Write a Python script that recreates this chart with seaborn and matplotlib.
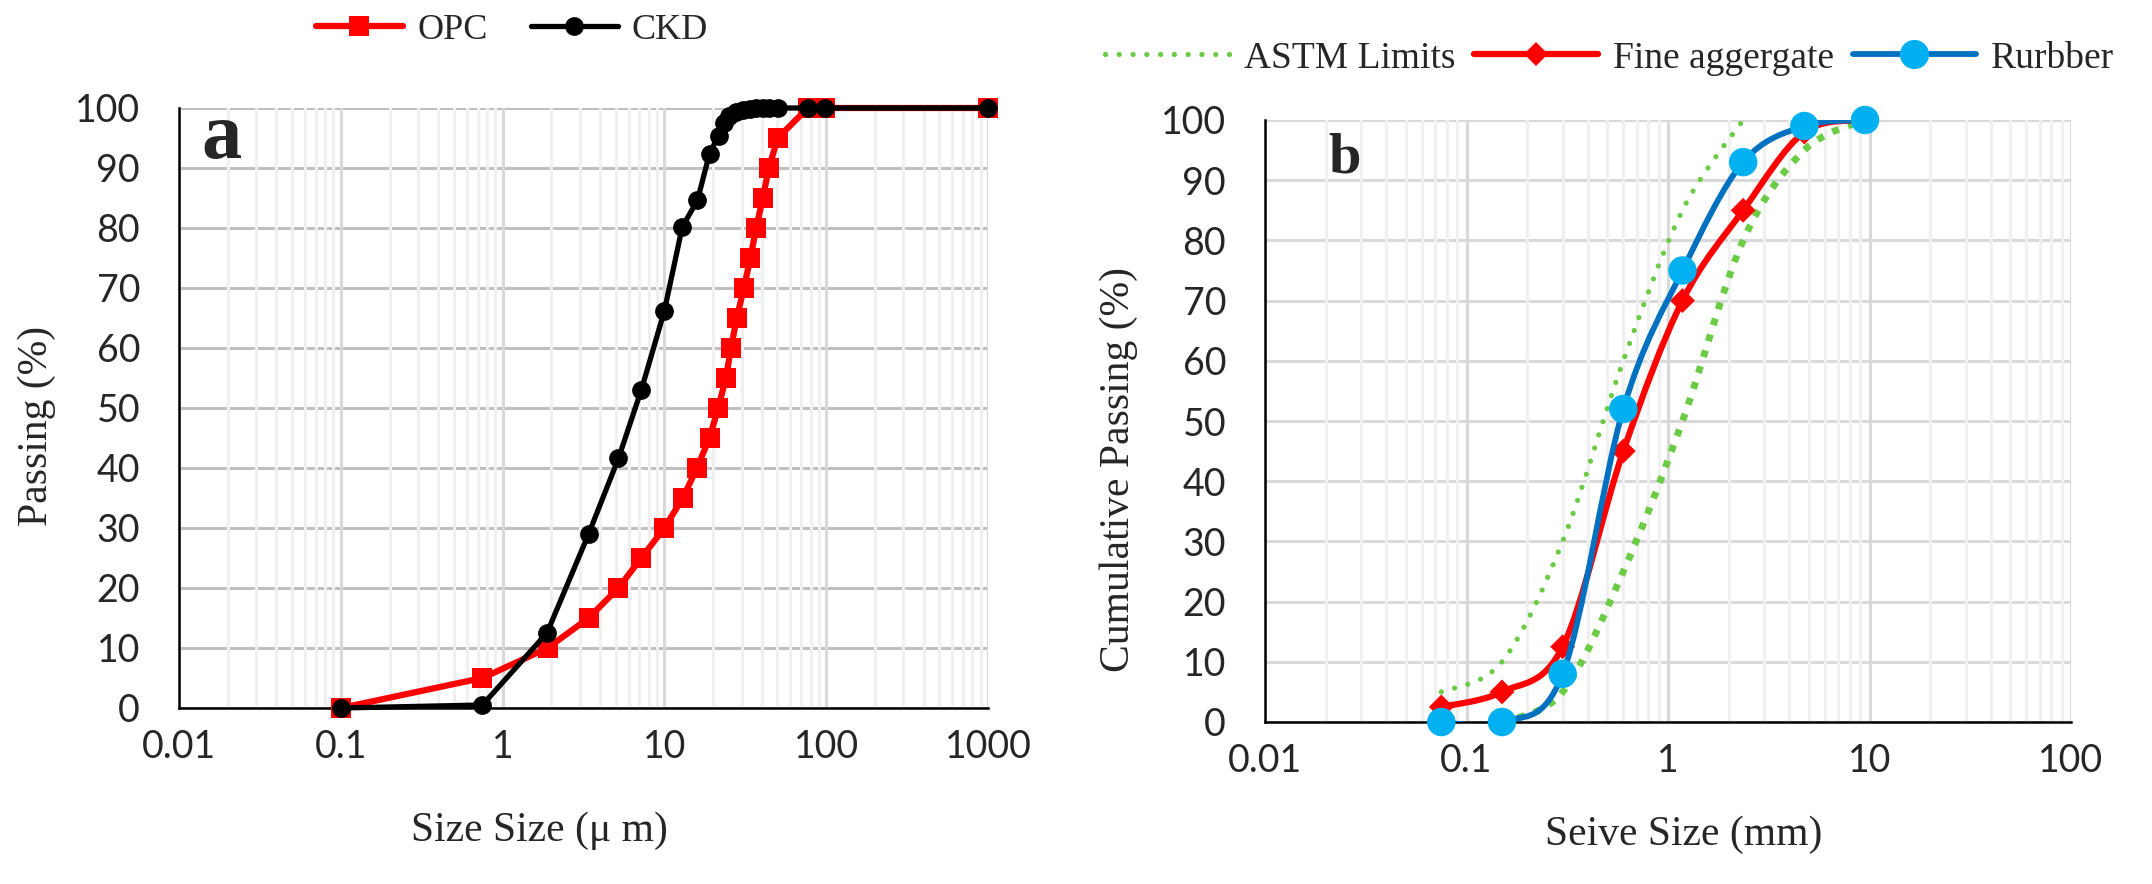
import numpy as np
import pandas as pd
import seaborn as sns
import matplotlib.pyplot as plt
from matplotlib.path import Path
from matplotlib.patches import PathPatch
from matplotlib.lines import Line2D
from matplotlib.ticker import LogLocator, NullFormatter

# ---- data (a) particle size distribution of OPC / CKD ----
opc_size = [0.1, 0.75, 1.9, 3.4, 5.2, 7.2, 10, 13, 15.9, 19, 21.5, 24, 25.8, 28,
            31, 34, 36.9, 40.6, 44.2, 50.2, 77, 99, 1000]
opc_pass = [0, 5, 10, 15, 20, 25, 30, 35, 40, 45, 50, 55, 60, 65,
            70, 75, 80, 85, 90, 95, 100, 100, 100]
ckd_size = [0.1, 0.75, 1.88, 3.4, 5.2, 7.2, 10, 12.9, 16, 19, 21.6, 23.5, 25.2, 27.7,
            30.5, 33.6, 37, 40.6, 44.6, 50.2, 77, 99, 1000]
ckd_pass = [0, 0.5, 12.5, 29, 41.6, 53, 66.2, 80.2, 84.6, 92.4, 95.4, 97.5, 98.7, 99.3,
            99.7, 99.9, 100, 100, 100, 100, 100, 100, 100]

# ---- data (b) sieve analysis ----
astm_up_size = [0.075, 0.15, 0.3, 0.6, 1.18, 2.36]
astm_up_pass = [5, 10, 30, 60, 85, 100]
astm_lo_size = [0.15, 0.3, 0.6, 1.18, 2.36, 4.75, 9.5]
astm_lo_pass = [0, 5, 25, 50, 80, 95, 100]
fine_size = [0.075, 0.15, 0.3, 0.6, 1.18, 2.36, 4.75, 9.5]
fine_pass = [2.5, 5, 12.5, 45, 70, 85, 98, 100]
rub_size = [0.075, 0.15, 0.3, 0.6, 1.18, 2.36, 4.75, 9.5]
rub_pass = [0, 0, 8, 52, 75, 93, 99, 100]

GREEN = '#6CCB45'
BLUE_LINE = '#0070C0'
BLUE_MK = '#00B0F0'
TICK_FONT = 'Lato'


def smooth_path(xs, ys):
    # excel style smoothed line: catmull-rom -> bezier, built in log-x space
    p = np.column_stack([np.log10(xs), np.asarray(ys, float)])
    n = len(p)
    verts = [p[0]]
    codes = [Path.MOVETO]
    for i in range(n - 1):
        p0 = p[max(i - 1, 0)]
        p1 = p[i]
        p2 = p[i + 1]
        p3 = p[min(i + 2, n - 1)]
        verts += [p1 + (p2 - p0) / 6, p2 - (p3 - p1) / 6, p2]
        codes += [Path.CURVE4] * 3
    verts = np.array(verts)
    verts[:, 0] = 10 ** verts[:, 0]
    return Path(verts, codes)


def style_axes(ax, xmax, hgrid):
    ax.set_xscale('log')
    ax.set_xlim(0.01, xmax)
    ax.set_ylim(0, 100)
    ticks = [10.0 ** k for k in range(-2, int(np.log10(xmax)) + 1)]
    labels = [('%g' % t) for t in ticks]
    ax.set_xticks(ticks, labels=labels, fontfamily=TICK_FONT)
    ax.xaxis.set_minor_locator(LogLocator(base=10, subs=np.arange(2, 10), numticks=30))
    ax.xaxis.set_minor_formatter(NullFormatter())
    ax.set_yticks(range(0, 101, 10), labels=[str(v) for v in range(0, 101, 10)],
                  fontfamily=TICK_FONT)
    ax.tick_params(which='both', length=0, labelsize=27)
    ax.tick_params(axis='x', pad=15)
    ax.tick_params(axis='y', pad=28)
    ax.yaxis.grid(True, color=hgrid, lw=2.2)
    ax.xaxis.grid(True, which='major', color='#D9D9D9', lw=2.2)
    ax.xaxis.grid(True, which='minor', color='#F0F0F0', lw=2.2)
    ax.set_axisbelow(True)
    ax.yaxis.set_zorder(0.3)
    ax.xaxis.set_zorder(0.4)
    for s in ['top', 'right']:
        ax.spines[s].set_visible(False)
    for s in ['left', 'bottom']:
        ax.spines[s].set_color('black')
        ax.spines[s].set_linewidth(1.8)


sns.set_style('white')
plt.rcParams['font.family'] = ['Liberation Serif', 'DejaVu Serif']

fig = plt.figure(figsize=(21.52, 8.84), dpi=100)
ax1 = fig.add_axes([179 / 2152, 1 - 708 / 884, 809 / 2152, 600 / 884])
ax2 = fig.add_axes([1265 / 2152, 1 - 722 / 884, 806 / 2152, 602 / 884])

# ---------------- (a) ----------------
df_opc = pd.DataFrame({'size': opc_size, 'passing': opc_pass})
df_ckd = pd.DataFrame({'size': ckd_size, 'passing': ckd_pass})
sns.lineplot(data=df_opc, x='size', y='passing', ax=ax1, estimator=None, sort=False,
             color='red', lw=4.5, marker='s', markersize=14.5, markeredgewidth=0,
             clip_on=False, zorder=3)
sns.lineplot(data=df_ckd, x='size', y='passing', ax=ax1, estimator=None, sort=False,
             color='black', lw=3.8, marker='o', markersize=13.5, markeredgewidth=0,
             clip_on=False, zorder=4)
style_axes(ax1, 1000, '#BFBFBF')
ax1.set_xlabel('Size Size (μ m)', fontsize=30)
ax1.set_ylabel('Passing (%)', fontsize=30)
ax1.xaxis.set_label_coords(0.445, -0.172)
ax1.yaxis.set_label_coords(-0.152, 0.47)
ax1.text(0.028, 0.917, 'a', transform=ax1.transAxes, fontsize=58, fontweight='bold')

h1 = [Line2D([], [], color='red', lw=4.5, marker='s', markersize=14.5, mew=0),
      Line2D([], [], color='black', lw=3.8, marker='o', markersize=13.5, mew=0)]
fig.legend(h1, ['OPC', 'CKD'], loc='center', bbox_to_anchor=(0.238, 0.966), ncol=2,
           frameon=False, fontsize=26, handlelength=2.4, handletextpad=0.4,
           columnspacing=1.2)

# ---------------- (b) ----------------
ax2.set_xscale('log')
ax2.add_patch(PathPatch(smooth_path(astm_up_size, astm_up_pass), fc='none', ec=GREEN,
                        lw=3.8, linestyle=(0, (0.01, 2.6)), capstyle='round', zorder=2))
ax2.add_patch(PathPatch(smooth_path(astm_lo_size, astm_lo_pass), fc='none', ec=GREEN,
                        lw=5, linestyle=(0, (1, 1.4)), capstyle='butt', zorder=2))
ax2.add_patch(PathPatch(smooth_path(fine_size, fine_pass), fc='none', ec='red',
                        lw=4.5, zorder=3))
sns.scatterplot(x=fine_size, y=fine_pass, ax=ax2, marker='D', s=160, color='red',
                edgecolor='none', clip_on=False, zorder=3.5)
ax2.add_patch(PathPatch(smooth_path(rub_size, rub_pass), fc='none', ec=BLUE_LINE,
                        lw=4.2, zorder=4))
sns.scatterplot(x=rub_size, y=rub_pass, ax=ax2, marker='o', s=420, color=BLUE_MK,
                edgecolor='none', clip_on=False, zorder=4.5)
style_axes(ax2, 100, '#D9D9D9')
ax2.set_xlabel('Seive Size (mm)', fontsize=30)
ax2.set_ylabel('Cumulative Passing (%)', fontsize=30)
ax2.xaxis.set_label_coords(0.52, -0.155)
ax2.yaxis.set_label_coords(-0.158, 0.42)
ax2.text(0.079, 0.912, 'b', transform=ax2.transAxes, fontsize=42, fontweight='bold')

h2 = [Line2D([], [], color=GREEN, lw=3.8, linestyle=(0, (0.01, 2.6)),
             dash_capstyle='round'),
      Line2D([], [], color='red', lw=4.5, marker='D', markersize=12, mew=0),
      Line2D([], [], color=BLUE_LINE, lw=4.2, marker='o', markersize=20,
             mfc=BLUE_MK, mec=BLUE_MK)]
fig.legend(h2, ['ASTM Limits', 'Fine aggergate', 'Rurbber'], loc='center',
           bbox_to_anchor=(0.748, 0.934), ncol=3, frameon=False, fontsize=27,
           handlelength=3.3, handletextpad=0.4, columnspacing=0.5)

fig.savefig('out.png', dpi=100)
